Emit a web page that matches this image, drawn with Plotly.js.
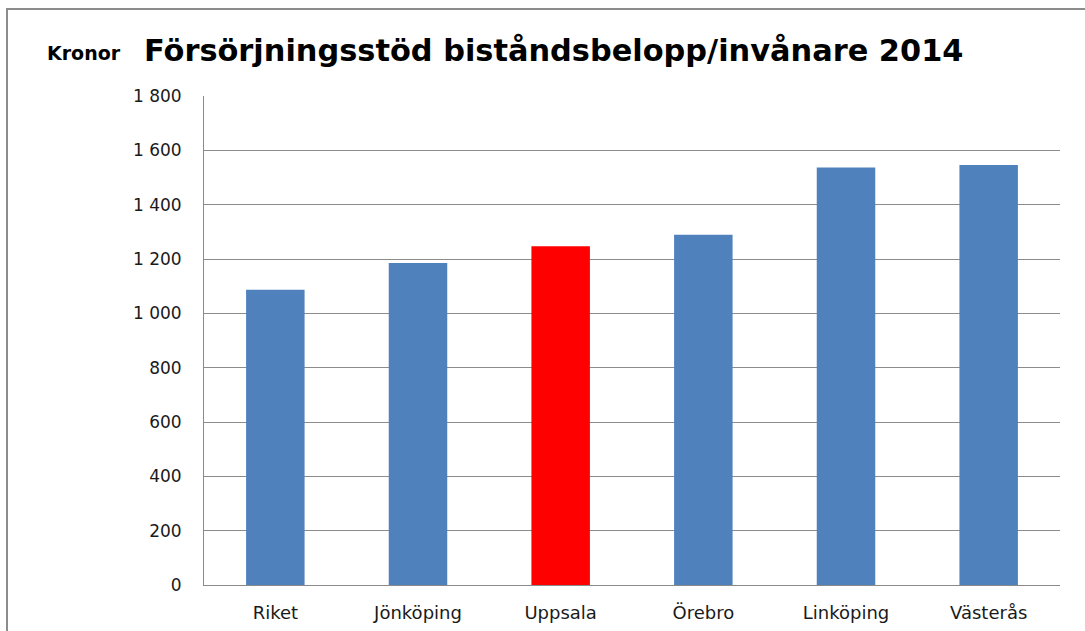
<!DOCTYPE html>
<html>
<head>
<meta charset="utf-8">
<script src="https://cdn.plot.ly/plotly-3.0.1.min.js"></script>
<style>html,body{margin:0;padding:0;background:#fff;}#chart{width:1085px;height:631px;}</style>
</head>
<body>
<div id="chart"></div>
<script>
const categories = ["Riket", "Jönköping", "Uppsala", "Örebro", "Linköping", "Västerås"];
const values = [1087, 1185, 1247, 1289, 1537, 1546];
const barColors = ["#4F81BD", "#4F81BD", "#FF0000", "#4F81BD", "#4F81BD", "#4F81BD"];
const tickVals = [0, 200, 400, 600, 800, 1000, 1200, 1400, 1600, 1800];
const tickText = ["0", "200", "400", "600", "800", "1 000", "1 200", "1 400", "1 600", "1 800"];
const titleText = "Försörjningsstöd biståndsbelopp/invånare 2014";
const unitText = "Kronor";

const W = 1085, H = 631;
const mL = 204, mR = 25, mT = 96, mB = 46;
const pw = W - mL - mR, ph = H - mT - mB;
const px = x => (x - mL) / pw;
const py = y => (H - mB - y) / ph;

const trace = {
  type: "bar",
  x: categories,
  y: values,
  marker: { color: barColors, line: { width: 0 } },
  hoverinfo: "x+y"
};

const layout = {
  width: W, height: H,
  margin: { l: mL, r: mR, t: mT, b: mB, pad: 0 },
  paper_bgcolor: "#ffffff",
  plot_bgcolor: "#ffffff",
  showlegend: false,
  bargap: 0.59,
  font: { family: "DejaVu Sans, sans-serif", color: "#1a1a1a" },
  annotations: [{
    text: "<b>" + unitText + "</b>",
    xref: "paper", yref: "paper",
    x: px(45), xanchor: "left",
    y: py(53), yanchor: "middle",
    showarrow: false,
    font: { family: "DejaVu Sans, sans-serif", size: 19, color: "#000000" }
  }, {
    text: "<b>" + titleText + "</b>",
    xref: "paper", yref: "paper",
    x: px(142), xanchor: "left",
    y: py(50), yanchor: "middle",
    showarrow: false,
    font: { family: "DejaVu Sans, sans-serif", size: 30.4, color: "#000000" }
  }],
  xaxis: {
    type: "category",
    showgrid: false,
    showline: true, linecolor: "#8a8a8a", linewidth: 1,
    ticks: "",
    ticklabelstandoff: 11,
    tickfont: { family: "DejaVu Sans, sans-serif", size: 18, color: "#1a1a1a" },
    fixedrange: true
  },
  yaxis: {
    range: [0, 1800],
    tickvals: tickVals,
    ticktext: tickText,
    showgrid: true, gridcolor: "#8c8c8c", gridwidth: 1,
    showline: true, linecolor: "#8a8a8a", linewidth: 1,
    zeroline: false,
    ticks: "",
    ticklabelstandoff: 18,
    tickfont: { family: "DejaVu Sans, sans-serif", size: 17, color: "#1a1a1a" },
    fixedrange: true
  },
  shapes: [{
    type: "rect", xref: "paper", yref: "paper",
    x0: px(7), x1: px(1100),
    y0: py(650), y1: py(9),
    line: { color: "#8c8c8c", width: 2 },
    fillcolor: "rgba(0,0,0,0)",
    layer: "above"
  }]
};

Plotly.newPlot("chart", [trace], layout, { displayModeBar: false, staticPlot: true });
</script>
</body>
</html>
